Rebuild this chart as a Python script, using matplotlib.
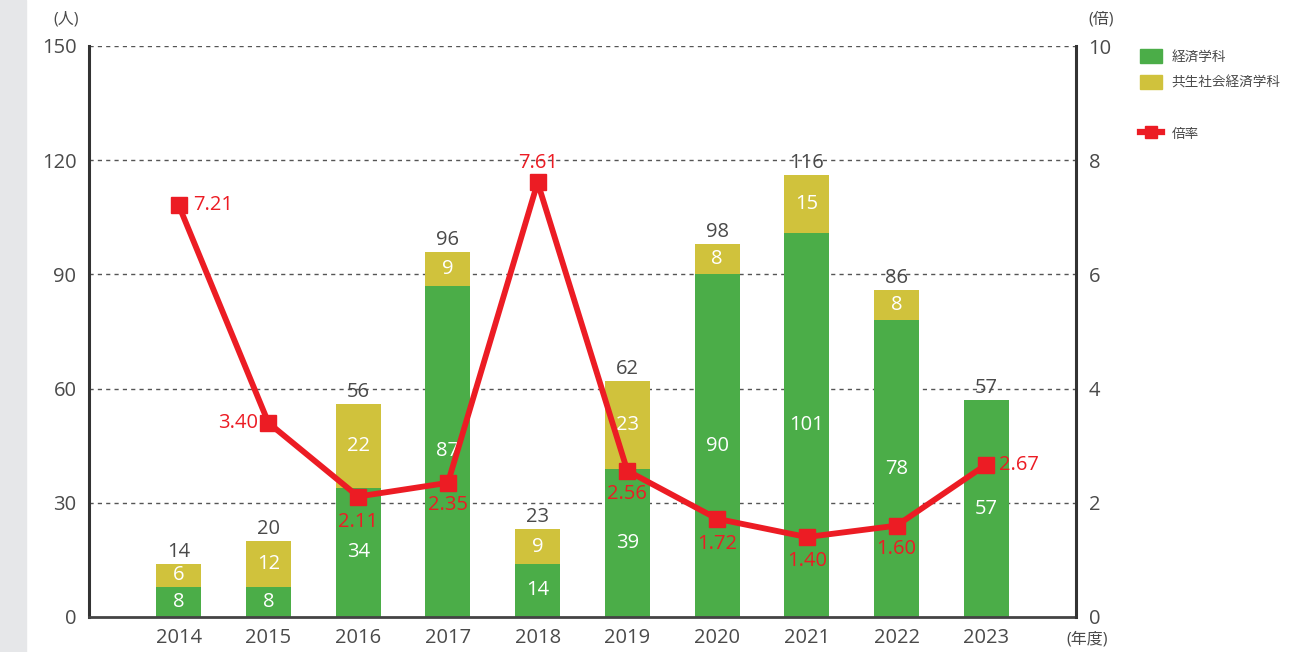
import numpy as np
import matplotlib
matplotlib.use('Agg')
import matplotlib.pyplot as plt
from matplotlib.patches import Patch, Rectangle
from matplotlib.lines import Line2D

plt.rcParams['font.family'] = ['Open Sans', 'Noto Sans CJK JP', 'DejaVu Sans']

years = ['2014', '2015', '2016', '2017', '2018', '2019', '2020', '2021', '2022', '2023']
keizai = [8, 8, 34, 87, 14, 39, 90, 101, 78, 57]
kyosei = [6, 12, 22, 9, 9, 23, 8, 15, 8, 0]
bairitsu = [7.21, 3.40, 2.11, 2.35, 7.61, 2.56, 1.72, 1.40, 1.60, 2.67]

# label placement for the ratio values (offset in pixels, horizontal align)
ratio_pos = [((14, 0), 'left'), ((-10, 0), 'right'),
             ((0, -25), 'center'), ((0, -22), 'center'),
             ((0, 19), 'center'), ((0, -23), 'center'),
             ((0, -25), 'center'), ((0, -24), 'center'),
             ((0, -23), 'center'), ((13, 0), 'left')]

green = '#4bad48'
yellow = '#d0c23c'
red = '#ec1c24'
txt = '#4a4a4a'
fs = 14.5

fig = plt.figure(figsize=(13.03, 6.52), dpi=100)
fig.patches.append(Rectangle((0, 0), 26 / 1303, 1, transform=fig.transFigure,
                             color='#e6e7e9', zorder=0))
ax = fig.add_axes([89 / 1303, 1 - 617 / 652, (1076 - 89) / 1303, (617 - 46) / 652])
x = np.arange(len(years))
w = 0.5

ax.bar(x, keizai, w, color=green, zorder=2)
ax.bar(x, kyosei, w, bottom=keizai, color=yellow, zorder=2)

for i in range(len(years)):
    ax.text(x[i], keizai[i] / 2, str(keizai[i]), ha='center', va='center',
            color='white', fontsize=fs, zorder=3)
    if kyosei[i] > 0:
        ax.text(x[i], keizai[i] + kyosei[i] / 2, str(kyosei[i]), ha='center',
                va='center', color='white', fontsize=fs, zorder=3)
    total = keizai[i] + kyosei[i]
    ax.annotate(str(total), (x[i], total), xytext=(0, 2), textcoords='offset pixels',
                ha='center', va='bottom', color=txt, fontsize=fs, zorder=3)

ax.set_xlim(-1, 10)
ax.set_ylim(0, 150)
ax.set_yticks([0, 30, 60, 90, 120, 150])
ax.set_xticks(x)
ax.set_xticklabels(years)
for y in [30, 60, 90, 120, 150]:
    ax.axhline(y, color='#555555', lw=1, ls=(0, (3, 3)), zorder=1)
ax.tick_params(axis='both', length=0, labelsize=fs, labelcolor=txt)
ax.tick_params(axis='y', pad=9)
ax.tick_params(axis='x', pad=8)
ax.spines['top'].set_visible(False)
ax.spines['right'].set_visible(False)
ax.spines['left'].set_linewidth(2.2)
ax.spines['left'].set_color('#333333')
ax.spines['bottom'].set_linewidth(2)
ax.spines['bottom'].set_color('#444444')

ax2 = ax.twinx()
ax2.set_ylim(0, 10)
ax2.set_yticks([0, 2, 4, 6, 8, 10])
ax2.tick_params(axis='y', length=0, labelsize=fs, labelcolor=txt, pad=9)
for s in ['top', 'left', 'bottom']:
    ax2.spines[s].set_visible(False)
ax2.spines['right'].set_linewidth(2.2)
ax2.spines['right'].set_color('#333333')
ax2.plot(x, bairitsu, color=red, lw=4.2, marker='s', ms=11.5, zorder=4)
for i, v in enumerate(bairitsu):
    off, ha = ratio_pos[i]
    ax2.annotate(f'{v:.2f}', (x[i], v), xytext=off, textcoords='offset pixels',
                 ha=ha, va='center', color=red, fontsize=fs, fontweight='medium',
                 zorder=5)

fig.text(66 / 1303, 1 - 20 / 652, '(人)', ha='center', va='center', fontsize=11.5, color=txt)
fig.text(1101 / 1303, 1 - 20 / 652, '(倍)', ha='center', va='center', fontsize=11.5, color=txt)
fig.text(1087 / 1303, 1 - 640 / 652, '(年度)', ha='center', va='center', fontsize=11.5, color=txt)

handles = [Patch(color=green), Patch(color=yellow), Patch(alpha=0),
           Line2D([], [], color=red, lw=4.5, marker='s', ms=9)]
labels = ['経済学科', '共生社会経済学科', '', '倍率']
fig.legend(handles, labels, loc='upper left', bbox_to_anchor=(1128 / 1303, 1 - 37 / 652),
           frameon=False, fontsize=9.8, labelcolor=txt, handlelength=1.6,
           handleheight=1.2, labelspacing=0.75, handletextpad=0.7)

fig.savefig('out.png', dpi=100)
